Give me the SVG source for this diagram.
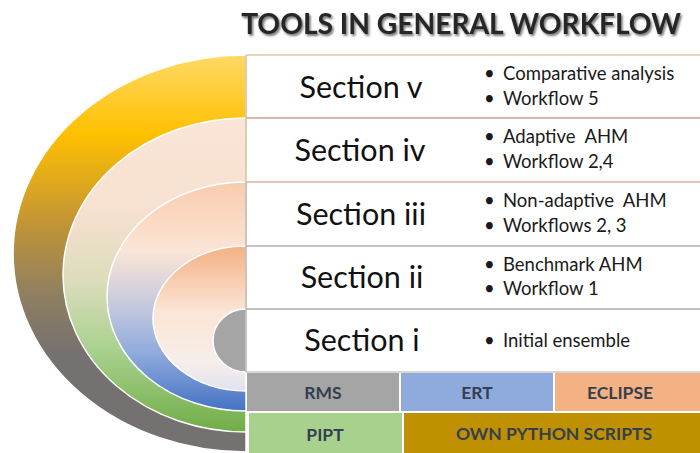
<svg xmlns="http://www.w3.org/2000/svg" width="700" height="453" viewBox="0 0 700 453">
  <defs>
    <linearGradient id="gOuter" x1="0" y1="55" x2="0" y2="452" gradientUnits="userSpaceOnUse">
      <stop offset="0" stop-color="#ffd966"/>
      <stop offset="0.2" stop-color="#ffc000"/>
      <stop offset="0.42" stop-color="#c39535"/>
      <stop offset="0.6" stop-color="#908060"/>
      <stop offset="0.75" stop-color="#767171"/>
      <stop offset="1" stop-color="#767171"/>
    </linearGradient>
    <linearGradient id="gRing2" x1="0" y1="118" x2="0" y2="432" gradientUnits="userSpaceOnUse">
      <stop offset="0" stop-color="#fbe5d6"/>
      <stop offset="0.3" stop-color="#f6e0cf"/>
      <stop offset="0.52" stop-color="#dcdcbb"/>
      <stop offset="0.74" stop-color="#a9d18e"/>
      <stop offset="1" stop-color="#70ad47"/>
    </linearGradient>
    <linearGradient id="gRing3" x1="0" y1="182" x2="0" y2="411" gradientUnits="userSpaceOnUse">
      <stop offset="0" stop-color="#f8cbad"/>
      <stop offset="0.3" stop-color="#fbe5d6"/>
      <stop offset="0.55" stop-color="#c3c8df"/>
      <stop offset="0.75" stop-color="#8faadc"/>
      <stop offset="1" stop-color="#4472c4"/>
    </linearGradient>
    <linearGradient id="gRing4" x1="0" y1="246" x2="0" y2="391" gradientUnits="userSpaceOnUse">
      <stop offset="0" stop-color="#f4b183"/>
      <stop offset="0.45" stop-color="#fbe5d6"/>
      <stop offset="0.8" stop-color="#f7eeea"/>
      <stop offset="1" stop-color="#dfe2f0"/>
    </linearGradient>
    <filter id="shadow" x="-10%" y="-60%" width="120%" height="220%">
      <feDropShadow dx="1.5" dy="2" stdDeviation="1.3" flood-color="#000" flood-opacity="0.55"/>
    </filter>
  </defs>
  <style>
    .ring { stroke: #ffffff; stroke-width: 1.5; }
    .row { fill: #ffffff; }
    .sec { font-family: Lato, "Liberation Sans", sans-serif; font-size: 30.5px; fill: #111111; text-anchor: middle; }
    .bul { font-family: Lato, "Liberation Sans", sans-serif; font-size: 18.5px; fill: #1a1a1a; white-space: pre; }
    .tool { font-family: Lato, "Liberation Sans", sans-serif; font-size: 17.5px; font-weight: 700; fill: #363f4f; text-anchor: middle; }
    .title { font-family: Lato, "Liberation Sans", sans-serif; font-size: 28.2px; font-weight: 700; fill: #262626; text-anchor: middle; }
  </style>

  <rect width="700" height="453" fill="#ffffff"/>

  <!-- heading -->
  <text class="title" x="461" y="34" filter="url(#shadow)">TOOLS IN GENERAL WORKFLOW</text>

  <!-- nested half-ellipses, outermost first -->
  <g id="rings">
    <path id="ring-outer" class="ring" fill="url(#gOuter)" d="M246,55 A233,198.5 0 0 0 246,452 Z"/>
    <path id="ring-2" class="ring" fill="url(#gRing2)" d="M246,118 A183,157 0 0 0 246,432 Z"/>
    <path id="ring-3" class="ring" fill="url(#gRing3)" d="M246,182 A139,114.5 0 0 0 246,411 Z"/>
    <path id="ring-4" class="ring" fill="url(#gRing4)" d="M246,246 A93,72.5 0 0 0 246,391 Z"/>
    <path id="ring-core" class="ring" fill="#a5a5a5" d="M246,309 A33,31.5 0 0 0 246,372 Z"/>
  </g>

  <!-- section rows -->
  <g id="section-v">
    <rect class="row" x="246" y="55" width="454" height="63"/>
    <text class="sec" x="361" y="98">Section v</text>
    <text class="bul" x="484" y="80">•<tspan x="503">Comparative analysis</tspan></text>
    <text class="bul" x="484" y="105">•<tspan x="503">Workflow 5</tspan></text>
  </g>
  <g id="section-iv">
    <rect class="row" x="246" y="118" width="454" height="64"/>
    <text class="sec" x="360" y="161">Section iv</text>
    <text class="bul" x="484" y="143">•<tspan x="503">Adaptive  AHM</tspan></text>
    <text class="bul" x="484" y="168">•<tspan x="503">Workflow 2,4</tspan></text>
  </g>
  <g id="section-iii">
    <rect class="row" x="246" y="182" width="454" height="64"/>
    <text class="sec" x="361" y="225">Section iii</text>
    <text class="bul" x="484" y="207">•<tspan x="503">Non-adaptive  AHM</tspan></text>
    <text class="bul" x="484" y="232">•<tspan x="503">Workflows 2, 3</tspan></text>
  </g>
  <g id="section-ii">
    <rect class="row" x="246" y="246" width="454" height="63"/>
    <text class="sec" x="362" y="288">Section ii</text>
    <text class="bul" x="484" y="271">•<tspan x="503">Benchmark AHM</tspan></text>
    <text class="bul" x="484" y="295">•<tspan x="503">Workflow 1</tspan></text>
  </g>
  <g id="section-i">
    <rect class="row" x="246" y="309" width="454" height="63"/>
    <text class="sec" x="362" y="351">Section i</text>
    <text class="bul" x="484" y="347">•<tspan x="503">Initial ensemble</tspan></text>
  </g>

  <!-- row borders -->
  <g id="borders" fill="none" stroke-width="1.5">
    <line x1="246" y1="55" x2="700" y2="55" stroke="#e3c6a6"/>
    <line x1="246" y1="118" x2="700" y2="118" stroke="#c9a18e"/>
    <line x1="246" y1="182" x2="700" y2="182" stroke="#d6b4a8"/>
    <line x1="246" y1="246" x2="700" y2="246" stroke="#b7aeac"/>
    <line x1="246" y1="309" x2="700" y2="309" stroke="#ababab"/>
    <line x1="246" y1="372" x2="700" y2="372" stroke="#c8c8c8"/>
    <line x1="246" y1="55" x2="246" y2="182" stroke="#d8b89c"/>
    <line x1="246" y1="182" x2="246" y2="372" stroke="#b8b0ae"/>
  </g>

  <!-- software tools -->
  <g id="tool-rms">
    <rect x="247" y="373" width="152" height="38" fill="#a5a5a5"/>
    <text class="tool" x="323" y="399">RMS</text>
  </g>
  <g id="tool-ert">
    <rect x="401" y="373" width="152" height="38" fill="#8faadc"/>
    <text class="tool" x="477" y="399">ERT</text>
  </g>
  <g id="tool-eclipse">
    <rect x="555" y="373" width="145" height="38" fill="#f4b183"/>
    <text class="tool" x="620" y="399">ECLIPSE</text>
  </g>
  <g id="tool-pipt">
    <rect x="249" y="413" width="153" height="40" fill="#a9d18e"/>
    <text class="tool" x="325" y="441">PIPT</text>
  </g>
  <g id="tool-python">
    <rect x="404" y="413" width="296" height="40" fill="#bf9000"/>
    <text class="tool" x="554" y="440">OWN PYTHON SCRIPTS</text>
  </g>
</svg>
